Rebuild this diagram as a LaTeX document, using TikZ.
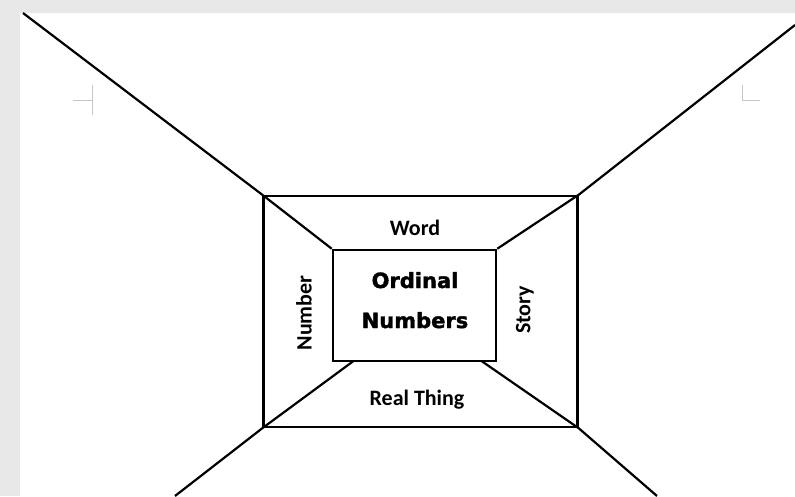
\documentclass[tikz,border=0pt]{standalone}
\usepackage{fontspec}
\newfontfamily\calib{Carlito}
\newfontfamily\dejab{DejaVu Sans}[BoldFont={DejaVu Sans Bold}, BoldFeatures={FakeBold=1.6}]
\usepackage{tikz}

\begin{document}
\begin{tikzpicture}[x=1pt, y=-1pt, line join=miter,
  box/.style={draw, line width=2.6pt, inner sep=0pt, rectangle},
  ray/.style={line width=2.2pt},
  lbl/.style={font=\calib\bfseries\fontsize{22}{26}\selectfont, inner sep=0pt},
  ttl/.style={font=\dejab\bfseries\fontsize{21}{25}\selectfont, inner sep=0pt},
  cropmark/.style={draw=gray!45, line width=1pt}]
\useasboundingbox (0,0) rectangle (795,496);
\fill[gray!18] (0,0) rectangle (795,496);
\fill[white] (20,13) rectangle (795,496);
% margin marks
\draw[cropmark] (73,100) -- (92,100) (92,85) -- (92,115);
\draw[cropmark] (742,85) -- (742,100) -- (760,100);
% the two frames
\node[box, minimum width=314pt, minimum height=231pt] (outer) at (420.5,311.5) {};
\node[box, minimum width=163pt, minimum height=111pt] (inner) at (414.5,305.5) {};
% far ends of the rays
\coordinate (tl) at (23,13);
\coordinate (tr) at (795,25);
\coordinate (bl) at (175,496);
\coordinate (br) at (657,496);
\coordinate (ibl) at (353.5,361);
\coordinate (ibr) at (481.5,361);
\draw[ray] (tl) -- (outer.north west) -- (inner.north west);
\draw[ray] (tr) -- (outer.north east) -- (inner.north east);
\draw[ray] (bl) -- (outer.south west) -- (ibl);
\draw[ray] (br) -- (outer.south east) -- (ibr);
% labels
\node[lbl, anchor=base] (word) at (415,235) {Word};
\node[lbl, anchor=base] (thing) at (417,405) {Real Thing};
\node[lbl, rotate=90] (number) at (304,313) {Number};
\node[lbl, rotate=90] (story) at (525,310) {Story};
\node[ttl, anchor=base] (ordinal) at (415,288) {Ordinal};
\node[ttl, anchor=base] (numbers) at (415,328) {Numbers};
\end{tikzpicture}
\end{document}
